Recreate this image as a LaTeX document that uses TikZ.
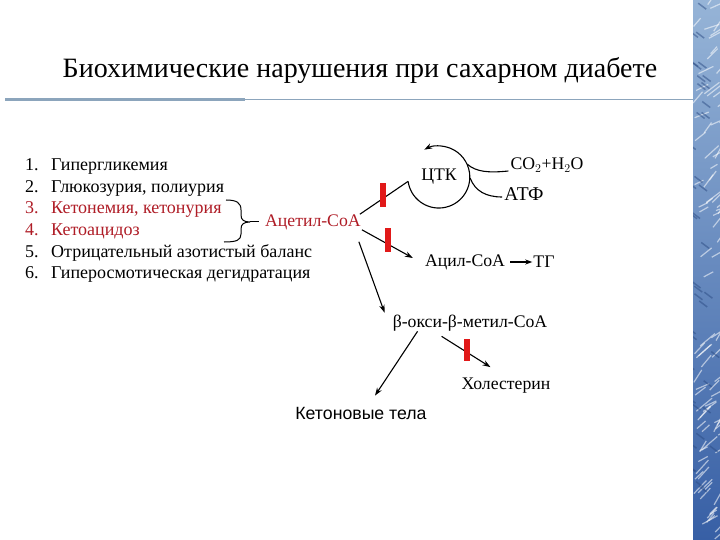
\documentclass[tikz,border=0pt]{standalone}
\usepackage{fontspec}
\setmainfont{Liberation Serif}
\newfontfamily\sansf{Liberation Sans}
\usetikzlibrary{arrows.meta,calc}
\definecolor{darkred}{RGB}{175,28,38}
\definecolor{barred}{RGB}{225,25,25}
\definecolor{rulecol}{RGB}{140,165,188}
\definecolor{stripA}{RGB}{150,180,215}
\definecolor{stripB}{RGB}{55,95,165}
\tikzset{
  txt/.style={inner sep=1pt, font=\fontsize{17.7}{21}\selectfont},
  lst/.style={anchor=base west, inner sep=0pt, font=\fontsize{18}{21}\selectfont},
  conn/.style={line width=1.1pt},
  arr/.style={line width=1.1pt, -{Stealth[length=8pt,width=5.5pt]}},
  redbar/.style={fill=barred, draw=none, minimum width=6pt, minimum height=24pt, inner sep=0pt},
}
\begin{document}
\begin{tikzpicture}[x=1pt,y=-1pt]
\useasboundingbox (0,0) rectangle (720,540);
\fill[white] (0,0) rectangle (720,540);
% right decorative strip
\begin{scope}
\clip (693,0) rectangle (720,540);
\shade[top color=stripA, bottom color=stripB] (693,0) rectangle (720,540);
\pgfmathsetseed{7}
\foreach \i in {1,...,90}{
  \pgfmathsetmacro{\xa}{693+27*rnd}
  \pgfmathsetmacro{\ya}{540*rnd}
  \pgfmathsetmacro{\dx}{6+10*rnd}
  \pgfmathsetmacro{\dy}{-4-10*rnd}
  \draw[white, opacity=0.55, line width=1.2pt] (\xa,\ya) -- ++(\dx,\dy);
}
\foreach \i in {1,...,40}{
  \pgfmathsetmacro{\xa}{693+27*rnd}
  \pgfmathsetmacro{\ya}{540*rnd}
  \draw[stripB!80!black, opacity=0.5, line width=1.5pt] (\xa,\ya) -- ++(-8,-6);
}
\end{scope}
% title and rule
\node[anchor=base, inner sep=0pt, font=\fontsize{28}{32}\selectfont] (title) at (360,78) {Биохимические нарушения при сахарном диабете};
\draw[rulecol, line width=3pt] (5,99.5) -- (245,99.5);
\draw[rulecol, line width=1.8pt] (245,99.5) -- (693,99.5);
% list
\foreach \k/\yy/\tx/\cl in {1/171/Гипергликемия/black,
  2/192.5/{Глюкозурия, полиурия}/black,
  3/214/{Кетонемия, кетонурия}/darkred,
  4/235.5/Кетоацидоз/darkred,
  5/257/Отрицательный азотистый баланс/black,
  6/278.5/Гиперосмотическая дегидратация/black}{
  \node[lst, text=\cl] (n\k) at (25,\yy) {\k.};
  \node[lst, text=\cl] (t\k) at (51,\yy) {\tx};
}
% brace
\coordinate (btip) at (250,222);
\draw[line width=1pt] (226,200) .. controls (237,200) and (241,203) .. (241,210) -- (241,215)
   .. controls (241,220) and (244,222) .. (btip)
   .. controls (244,222) and (241,224) .. (241,229) -- (241,234)
   .. controls (241,240) and (237,242) .. (224,242);
\node[txt, text=darkred, anchor=west] (acetyl) at (264,222) {Ацетил-СоА};
\draw[line width=1pt] (btip) -- ($(acetyl.west)+(-5,0)$);
% TCA cycle
\node[txt, circle, minimum size=62pt, inner sep=0pt] (ctk) at (439,177) {ЦТК};
\draw[conn] ($(acetyl.north east)+(-2,1)$) -- (ctk.188);
\draw[line width=1.1pt, -{Stealth[length=8pt,width=5.5pt]}] (ctk.188) arc[start angle=188, end angle=478, radius=31pt];
\node[txt, anchor=center] (co2) at (547,165) {CO$_2$+H$_2$O};
\node[txt, anchor=center, font=\fontsize{19.5}{22}\selectfont] (atf) at (524,194) {АТФ};
\draw[conn] (ctk.24) .. controls (476,172) and (489,173) .. ($(co2.west)+(-1,6)$);
\draw[conn] (ctk.-2) .. controls (475,191) and (486,197) .. ($(atf.west)+(-1,3)$);
\node[redbar] (bar1) at (383,195) {};
% acyl
\node[txt] (acyl) at (465,262) {Ацил-СоА};
\node[txt] (tg) at (544,262) {ТГ};
\draw[arr] ($(acetyl.south east)+(0,-1)$) -- ($(acyl.west)+(-11,-4)$);
\node[redbar] (bar2) at (388,240) {};
\draw[line width=1.1pt, -{Stealth[length=7pt,width=5pt]}] ($(acyl.east)+(4,0)$) -- (tg.west);
% HMG
\node[txt] (hmg) at (470,323) {β-окси-β-метил-СоА};
\draw[arr] ($(acetyl.south east)+(-3,11)$) -- ($(hmg.north west)+(-7,-1)$);
\node[txt, font=\sansf\fontsize{17.7}{21}\selectfont] (keto) at (361,413) {Кетоновые тела};
\node[txt] (chol) at (506,386) {Холестерин};
\draw[arr] ($(hmg.south west)+(26,-1)$) -- ($(keto.north)+(14,-10)$);
\draw[arr] ($(hmg.south west)+(50,4)$) -- ($(chol.north west)+(30,-10)$);
\node[redbar, minimum height=22pt] (bar3) at (467,350) {};
\end{tikzpicture}
\end{document}
